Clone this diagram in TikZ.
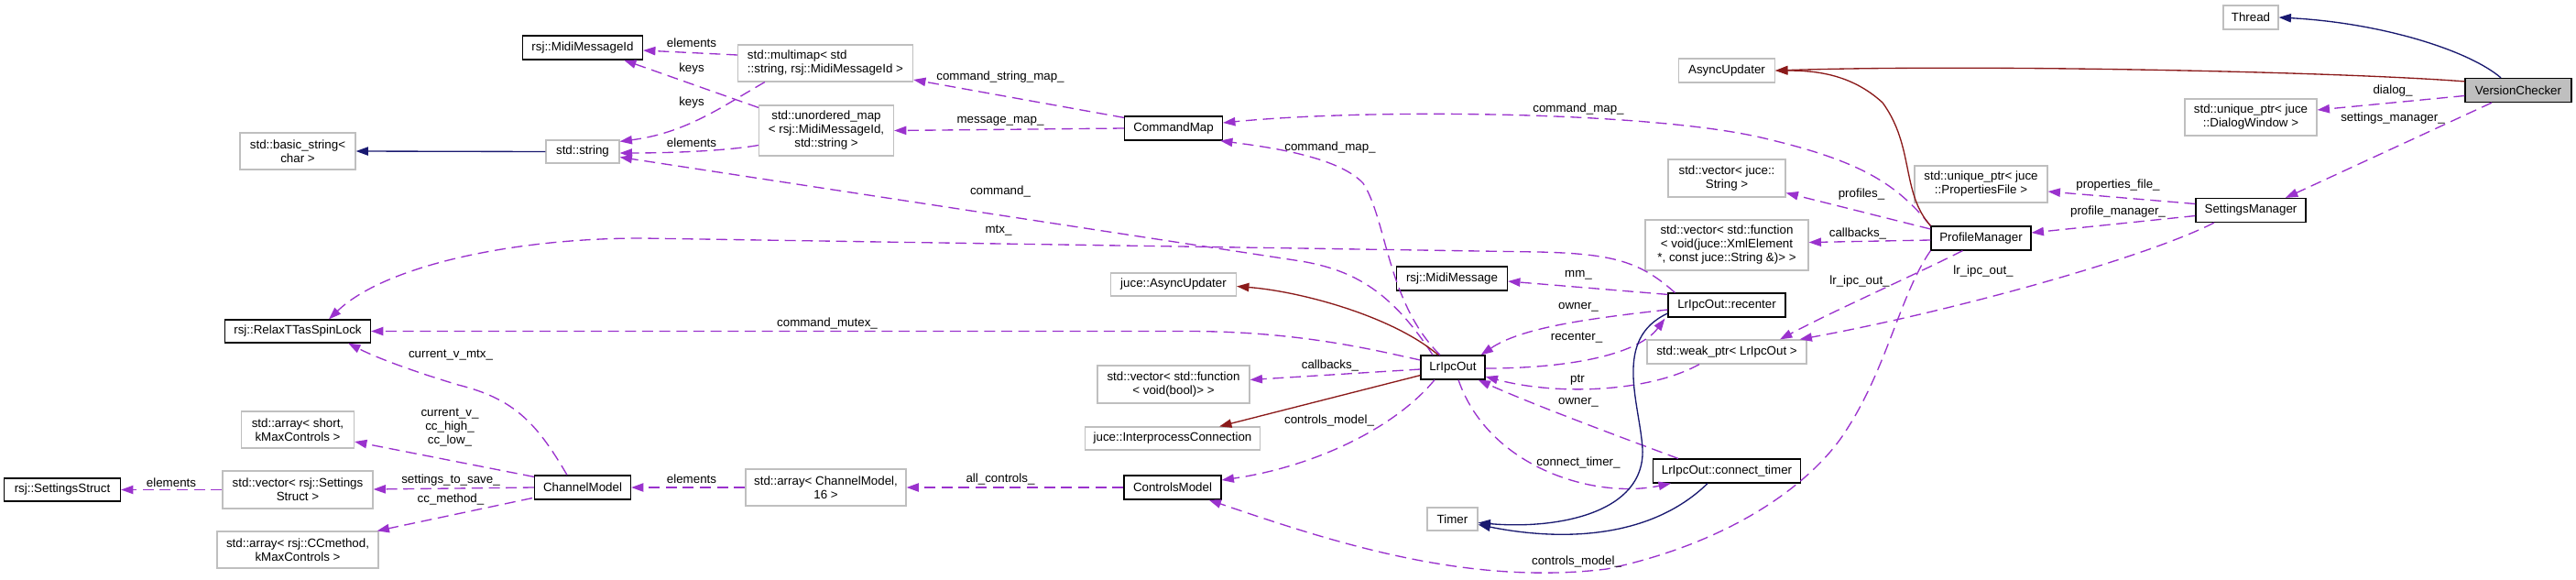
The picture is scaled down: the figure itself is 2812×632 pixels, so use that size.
\documentclass[tikz,border=0pt]{standalone}
\usepackage{fontspec}
\setmainfont{Liberation Sans}
\usetikzlibrary{arrows.meta,calc}
\definecolor{usec}{HTML}{9A32CD}
\definecolor{inhc}{HTML}{191970}
\definecolor{prvc}{HTML}{8B1A1A}
\definecolor{extc}{HTML}{BFBFBF}
\tikzset{
 base/.style={rectangle, inner sep=0pt, align=center, font=\fontsize{10}{11.25}\selectfont, line width=0.9pt},
 cls/.style={base, draw=black},
 ext/.style={base, draw=extc},
 sz/.style 2 args={minimum width={#1*0.75pt}, minimum height={#2*0.75pt}},
 use/.style={draw=usec, line width=1pt, dash pattern=on 9pt off 5pt, -{Triangle[length=10pt,width=7pt]}},
 inh/.style={draw=inhc, line width=1pt, -{Triangle[length=10pt,width=7pt]}},
 prv/.style={draw=prvc, line width=1pt, -{Triangle[length=10pt,width=7pt]}},
 lbl/.style={inner sep=0pt, font=\fontsize{10}{11.25}\selectfont, align=center},
}
\begin{document}
\begin{tikzpicture}[x=0.75pt, y=-0.75pt]
\useasboundingbox (0,0) rectangle (2812,632);
% nodes
\node[ext, sz={60}{26}] (TH) at (2457,19) {Thread};
\node[cls, fill=extc, sz={116}{26}] (VC) at (2749,98.5) {VersionChecker};
\node[ext, sz={105}{26}] (AU) at (1885,77) {AsyncUpdater};
\node[ext, sz={144}{40}] (DW) at (2457,128) {std::unique\_ptr< juce\\::DialogWindow >};
\node[cls, sz={120}{26}] (SM) at (2457,229.5) {SettingsManager};
\node[ext, sz={145}{40}] (PF) at (2162.5,201) {std::unique\_ptr< juce\\::PropertiesFile >};
\node[cls, sz={109}{26}] (PM) at (2162.5,260) {ProfileManager};
\node[ext, sz={128}{41}] (VS) at (1885,194.5) {std::vector< juce::\\String >};
\node[ext, sz={178}{55}] (VX) at (1885,267.5) {std::vector< std::function\\< void(juce::XmlElement\\{}*, const juce::String \&)> >};
\node[ext, sz={174}{26}] (WP) at (1885,384) {std::weak\_ptr< LrIpcOut >};
\node[cls, sz={128}{26}] (RC) at (1885,333) {LrIpcOut::recenter};
\node[cls, sz={161}{26}] (CT) at (1885,514) {LrIpcOut::connect\_timer};
\node[ext, sz={55}{25}] (TM) at (1585.5,566.5) {Timer};
\node[cls, sz={70}{26}] (LO) at (1586,401) {LrIpcOut};
\node[cls, sz={121}{26}] (MM) at (1585,304) {rsj::MidiMessage};
\node[ext, sz={137}{25}] (JA) at (1281,310.5) {juce::AsyncUpdater};
\node[ext, sz={166}{41}] (VB) at (1281,419.5) {std::vector< std::function\\< void(bool)> >};
\node[ext, sz={191}{25}] (IC) at (1280,478.5) {juce::InterprocessConnection};
\node[cls, sz={106}{26}] (CTL) at (1280,532) {ControlsModel};
\node[ext, sz={175}{40}] (ACM) at (901.5,532) {std::array< ChannelModel,\\16 >};
\node[cls, sz={107}{26}] (CM) at (1281,140) {CommandMap};
\node[ext, sz={191}{40}, align=left] (MP) at (901,69) {std::multimap< std\\::string, rsj::MidiMessageId >};
\node[ext, sz={147}{55}] (UM) at (902,142.5) {std::unordered\_map\\< rsj::MidiMessageId,\\std::string >};
\node[cls, sz={131}{26}] (MID) at (636,52) {rsj::MidiMessageId};
\node[ext, sz={80}{25}] (ST) at (636,165.5) {std::string};
\node[ext, sz={126}{40}] (BS) at (325,165) {std::basic\_string<\\char >};
\node[cls, sz={159}{25}] (SL) at (325,361.5) {rsj::RelaxTTasSpinLock};
\node[ext, sz={123}{40}] (AS) at (325,469) {std::array< short,\\kMaxControls >};
\node[cls, sz={127}{25}] (SS) at (68,534.5) {rsj::SettingsStruct};
\node[ext, sz={164}{41}] (VSS) at (325,534.5) {std::vector< rsj::Settings\\Struct >};
\node[ext, sz={176}{40}] (ACC) at (325,600) {std::array< rsj::CCmethod,\\kMaxControls >};
\node[cls, sz={105}{26}] (CH) at (636,532) {ChannelModel};
% edges right part
\draw[inh] ($(VC.north)+(-19,0)$) .. controls (2695,55) and (2600,25) .. (TH.east);
\draw[prv] ($(VC.north west)+(0,4)$) .. controls (2550,78) and (2150,70) .. (AU.east);
\draw[use] ($(VC.west)+(0,6)$) -- ($(DW.east)+(0,-8)$);
\draw[use] ($(VC.south)+(-29,0)$) -- ($(SM.north)+(38,0)$);
\draw[use] ($(SM.west)+(0,-7)$) -- ($(PF.east)+(0,8)$);
\draw[use] ($(SM.west)+(0,6)$) -- ($(PM.east)+(0,-6)$);
\draw[use] ($(SM.south)+(-40,0)$) .. controls (2340,282) and (2130,340) .. ($(WP.north east)+(-8,0)$);
\draw[use] ($(PM.south)+(-20,0)$) .. controls (2090,300) and (2000,340) .. ($(WP.north)+(58,0)$);
\draw[use] (PM.south west) .. controls (2075,320) and (2060,400) .. (2017,467) .. controls (1985,520) and (1900,590) .. (1754,621) .. controls (1600,640) and (1450,590) .. ($(CTL.south east)+(-14,0)$);
\draw[use] ($(PM.west)+(0,-10)$) -- ($(VS.east)+(0,16)$);
\draw[use] ($(PM.west)+(0,2)$) -- ($(VX.east)+(0,-3)$);
\draw[use] (PM.north west) .. controls (2070,200) and (2030,175) .. (1922,150) .. controls (1800,122) and (1500,118) .. ($(CM.east)+(0,-6)$);
\draw[prv] (PM.north west) .. controls (2075,210) and (2090,160) .. (2055,112) .. controls (2020,80) and (1980,77) .. (AU.east);
% LrIpcOut edges
\draw[use] ($(LO.north)+(-14,0)$) .. controls (1514,330) and (1514,240) .. (1488,200) .. controls (1460,170) and (1380,160) .. ($(CM.south east)+(-3,0)$);
\draw[use] ($(LO.north)+(-22,0)$) .. controls (1520,320) and (1480,295) .. (1420,285) -- ($(ST.east)+(0,6)$);
\draw[use] ($(RC.north west)+(8,0)$) .. controls (1790,285) and (1760,277) .. (1680,275) -- (700,260) .. controls (560,260) and (420,290) .. ($(SL.north)+(34,0)$);
\draw[use] ($(LO.west)+(0,-8)$) .. controls (1500,382) and (1420,362) .. (1300,361.5) -- (SL.east);
\draw[use] ($(LO.west)+(0,2)$) -- ($(VB.east)+(0,-5)$);
\draw[prv] ($(LO.south west)+(0,-5)$) -- ($(IC.north east)+(-45,0)$);
\draw[prv] ($(LO.north)+(-16,0)$) .. controls (1520,345) and (1420,318) .. ($(JA.east)+(0,2)$);
\draw[use] ($(LO.south)+(-20,0)$) .. controls (1520,470) and (1430,510) .. ($(CTL.east)+(0,-8)$);
\draw[use] ($(LO.east)+(0,1)$) .. controls (1720,402) and (1790,385) .. ($(RC.south west)+(-3,1)$);
\draw[use] ($(RC.west)+(0,5)$) .. controls (1730,348) and (1660,358) .. ($(LO.north east)+(-5,0)$);
\draw[use] ($(WP.south)+(-30,0)$) .. controls (1800,428) and (1700,432) .. ($(LO.east)+(0,10)$);
\draw[use] ($(CT.north west)+(28,0)$) .. controls (1750,470) and (1670,440) .. ($(LO.south east)+(-8,0)$);
\draw[use] ($(LO.south)+(6,0)$) .. controls (1625,510) and (1740,545) .. ($(CT.south west)+(20,0)$);
\draw[use] ($(RC.north west)+(0,2)$) -- ($(MM.east)+(0,3)$);
\draw[inh] ($(RC.west)+(0,9)$) .. controls (1760,370) and (1790,440) .. (1793,490) .. controls (1796,560) and (1700,578) .. ($(TM.east)+(0,4)$);
\draw[inh] ($(CT.south)+(-21,0)$) .. controls (1800,590) and (1700,590) .. ($(TM.east)+(0,6)$);
% left part
\draw[use] ($(CM.north west)+(0,2)$) -- ($(MP.east)+(0,18)$);
\draw[use] (CM.west) -- (UM.east);
\draw[use] ($(MP.west)+(0,-9)$) -- ($(MID.east)+(0,3)$);
\draw[use] ($(MP.south west)+(30,0)$) .. controls (790,115) and (750,145) .. ($(ST.north east)+(0,2)$);
\draw[use] ($(UM.north west)+(0,3)$) -- ($(MID.south east)+(-21,0)$);
\draw[use] ($(UM.west)+(0,16)$) .. controls (790,165) and (730,167) .. ($(ST.east)+(0,1.5)$);
\draw[inh] (ST.west) -- (BS.east);
\draw[use] (CTL.west) -- (ACM.east);
\draw[use] (ACM.west) -- (CH.east);
\draw[use] ($(CH.north)+(-17,0)$) .. controls (585,460) and (560,435) .. (500,420) .. controls (450,405) and (410,390) .. ($(SL.south east)+(-25,0)$);
\draw[use] ($(CH.north west)+(0,2)$) -- ($(AS.east)+(0,13)$);
\draw[use] (CH.west) -- ($(VSS.east)+(0,-0.5)$);
\draw[use] ($(CH.south west)+(-2,-2)$) -- ($(ACC.north east)+(-2,0)$);
\draw[use] (VSS.west) -- (SS.east);
% labels
\node[lbl] (l1) at (2612,99) {dialog\_};
\node[lbl] (l2) at (2612,129) {settings\_manager\_};
\node[lbl] (l3) at (2312,202) {properties\_file\_};
\node[lbl] (l4) at (2312,231) {profile\_manager\_};
\node[lbl] (l5) at (2165,296) {lr\_ipc\_out\_};
\node[lbl] (l6) at (2030,307) {lr\_ipc\_out\_};
\node[lbl] (l7) at (2032,212) {profiles\_};
\node[lbl] (l8) at (2028,255) {callbacks\_};
\node[lbl] (l9) at (1723,119) {command\_map\_};
\node[lbl] (l10) at (1452,161) {command\_map\_};
\node[lbl] (l11) at (1723,300) {mm\_};
\node[lbl] (l12) at (1723,335) {owner\_};
\node[lbl] (l13) at (1721,369) {recenter\_};
\node[lbl] (l14) at (1452,399) {callbacks\_};
\node[lbl] (l15) at (1722,415) {ptr};
\node[lbl] (l16) at (1723,439) {owner\_};
\node[lbl] (l17) at (1451,459) {controls\_model\_};
\node[lbl] (l18) at (1723,505) {connect\_timer\_};
\node[lbl] (l19) at (1721,613) {controls\_model\_};
\node[lbl] (l20) at (1092,84) {command\_string\_map\_};
\node[lbl] (l21) at (1092,132) {message\_map\_};
\node[lbl] (l22) at (1092,209) {command\_};
\node[lbl] (l23) at (1090,252) {mtx\_};
\node[lbl] (l24) at (903,353) {command\_mutex\_};
\node[lbl] (l25) at (1092,523) {all\_controls\_};
\node[lbl] (l26) at (755,523) {elements};
\node[lbl] (l27) at (755,47) {elements};
\node[lbl] (l28) at (755,75) {keys};
\node[lbl] (l29) at (755,112) {keys};
\node[lbl] (l30) at (755,156) {elements};
\node[lbl] (l31) at (492,388) {current\_v\_mtx\_};
\node[lbl] (l32) at (491,467) {current\_v\_\\cc\_high\_\\cc\_low\_};
\node[lbl] (l33) at (492,524) {settings\_to\_save\_};
\node[lbl] (l34) at (492,545) {cc\_method\_};
\node[lbl] (l35) at (187,527) {elements};
\end{tikzpicture}
\end{document}
